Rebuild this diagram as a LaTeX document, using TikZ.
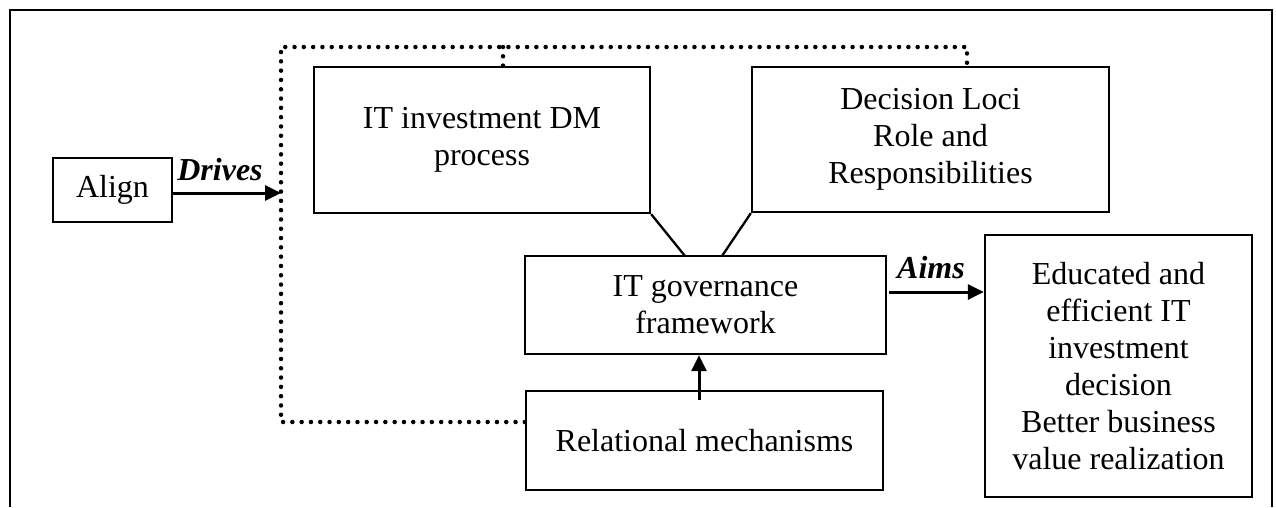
\documentclass[tikz,border=0pt]{standalone}
\usepackage{fontspec}
\setmainfont{Liberation Serif}
\usetikzlibrary{arrows.meta,calc}

\tikzset{
  box/.style={draw, line width=2.3pt, align=center, inner sep=0pt,
              font=\fontsize{32}{37}\selectfont},
  tag/.style={anchor=base, inner sep=0pt,
              font=\fontsize{32}{37}\selectfont\bfseries\itshape},
  link/.style={line width=2.3pt},
  flow/.style={line width=3pt, -{Triangle[length=16pt,width=15pt]}},
  loop/.style={line width=4.5pt, line cap=round, dash pattern=on 0pt off 9.3pt},
  frame/.style={line width=2.8pt}
}

\begin{document}
\begin{tikzpicture}[x=1pt,y=-1pt]
  \useasboundingbox (0,0) rectangle (1276,507);

  % open frame around the model
  \draw[frame] (10,507) -- (10,10) -- (1272,10) -- (1272,507);

  % boxes
  \node[box, minimum width=119pt, minimum height=64pt]  (align) at (112.5,190) {Align};
  \node[box, minimum width=336pt, minimum height=146pt] (inv)   at (482,140)   {IT investment DM\\process};
  \node[box, minimum width=357pt, minimum height=145pt] (dec)   at (930.5,139.5) {Decision Loci\\Role and\\Responsibilities};
  \node[box, minimum width=361pt, minimum height=98pt]  (gov)   at (705.5,305) {IT governance\\framework};
  \node[box, minimum width=357pt, minimum height=99pt]  (rel)   at (704.5,440.5) {Relational mechanisms};
  \node[box, minimum width=267pt, minimum height=262pt] (edu)   at (1118.5,366) {Educated and\\efficient IT\\investment\\decision\\Better business\\value realization};

  % corner points of the dotted feedback loop
  \coordinate (lb) at (281,422);
  \coordinate (lt) at (281,47);
  \coordinate (tr) at (967,47);
  \coordinate (tm) at (503,47);
  \coordinate (dv) at (281,193);

  % dotted loop from the relational mechanisms back to the two upper boxes
  \draw[loop] (rel.west |- lb) -- (lb) -- (lt) -- (tr) -- (tr |- dec.north);
  \draw[loop] (tm) -- (tm |- inv.north);

  % Align drives the loop
  \draw[flow] (align.east |- dv) -- (dv);
  \node[tag] (drives) at (220,180) {Drives};

  % the two components feed the framework
  \coordinate (g1) at (685,256);
  \coordinate (g2) at (722,256);
  \draw[link] (inv.south east) -- (g1);
  \draw[link] (dec.south west) -- (g2);

  % relational mechanisms support the framework
  \coordinate (ru) at (699,400);
  \draw[flow] (ru) -- (ru |- gov.south);

  % the framework aims at the outcome
  \coordinate (ao) at (889,292);
  \draw[flow] (ao) -- (edu.west |- ao);
  \node[tag] (aims) at (931,278) {Aims};
\end{tikzpicture}
\end{document}
